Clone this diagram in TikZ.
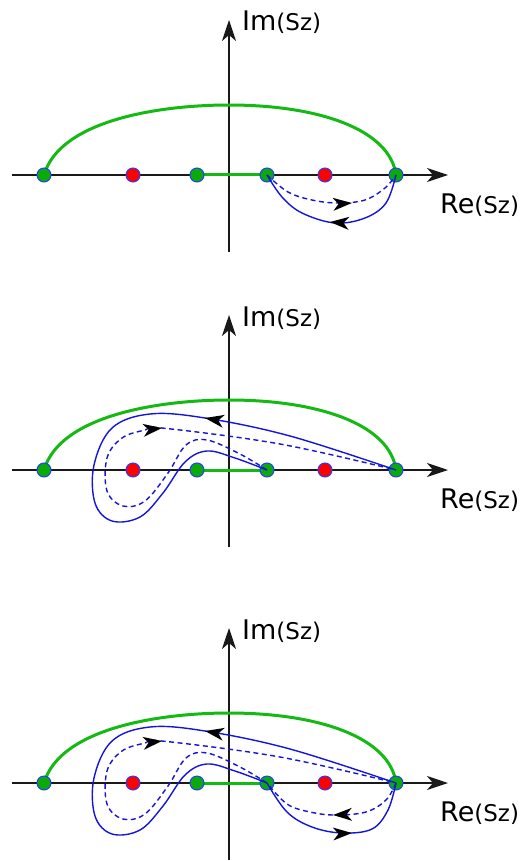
\documentclass[tikz,border=0pt]{standalone}
\usepackage{fontspec}
\setmainfont{DejaVu Sans}
\usetikzlibrary{arrows.meta}
\definecolor{dotgreen}{RGB}{10,170,10}
\definecolor{arcgreen}{RGB}{20,185,20}
\definecolor{dotred}{RGB}{255,0,0}
\definecolor{rimblue}{RGB}{40,60,255}
\definecolor{cblue}{RGB}{20,20,220}
\tikzset{
  axisline/.style={draw=black!90, line width=1.5pt, -{Stealth[length=21pt,width=14pt,inset=6pt]}},
  greenline/.style={draw=arcgreen, line width=3pt},
  gdot/.style={circle, fill=dotgreen, draw=rimblue, line width=1pt, minimum size=14pt, inner sep=0pt},
  rdot/.style={gdot, fill=dotred},
  bsolid/.style={draw=cblue, line width=1.4pt},
  bdashed/.style={bsolid, dash pattern=on 5pt off 3.5pt},
  axlabel/.style={anchor=base west, inner sep=0pt},
  ahead/.pic={\fill[black] (0,0) -- (-19,6.5) -- (-13.5,0) -- (-19,-6.5) -- cycle;}
}
\newcommand{\bigt}{\fontsize{27}{31}\selectfont}
\newcommand{\smallt}{\fontsize{23}{27}\selectfont}
\newcommand{\drawpanel}[1]{%
  \coordinate (#1xl) at (12,175); \coordinate (#1xr) at (448,175);
  \coordinate (#1yb) at (229,252); \coordinate (#1yt) at (229,20);
  \draw[axisline] (#1xl) -- (#1xr);
  \draw[axisline] (#1yb) -- (#1yt);
  \node[axlabel] (#1im) at (242,31) {{\bigt Im}{\smallt (Sz)}};
  \node[axlabel] (#1re) at (440,213) {{\bigt Re}{\smallt (Sz)}};
  \coordinate (#1p1) at (44,175); \coordinate (#1q1) at (133,175);
  \coordinate (#1p2) at (197,175); \coordinate (#1p3) at (267,175);
  \coordinate (#1q2) at (325,175); \coordinate (#1p4) at (396,175);
  \coordinate (#1top) at (229,105);
  \draw[greenline] (#1p1) .. controls (60,120) and (160,105) .. (#1top)
                          .. controls (320,105) and (390,130) .. (#1p4);
  \draw[greenline] (#1p2) -- (#1p3);
  \node[gdot] (#1a1) at (#1p1) {};
  \node[rdot] (#1r1) at (#1q1) {};
  \node[gdot] (#1a2) at (#1p2) {};
  \node[gdot] (#1a3) at (#1p3) {};
  \node[rdot] (#1r2) at (#1q2) {};
  \node[gdot] (#1a4) at (#1p4) {};
}
\newcommand{\upperloops}[1]{%
  \draw[bsolid] plot[smooth, tension=0.6] coordinates {(#1a4.center) (290,141) (205,123) (150,119) (112,133) (94,170) (95,208) (112,226) (140,222) (163,198) (185,167) (207,156) (235,163) (#1a3.center)};
  \draw[bdashed] plot[smooth, tension=0.6] coordinates {(#1a3.center) (240,159) (207,145) (186,150) (168,178) (145,206) (123,211) (107,196) (107,163) (122,143) (145,135) (162,133) (280,149) (#1a4.center)};
  \pic[rotate=170] at (205,123) {ahead};
  \pic[rotate=7] at (162,133) {ahead};
}
\begin{document}
\begin{tikzpicture}[x=1pt, y=-1pt]
\useasboundingbox (0,0) rectangle (522,861);
% panel 1
\begin{scope}
  \drawpanel{A}
  \draw[bsolid] plot[smooth, tension=0.6] coordinates {(Aa4.center) (386,203) (365,218) (335,223) (302,213) (282,197) (Aa3.center)};
  \draw[bdashed] plot[smooth, tension=0.6] coordinates {(Aa3.center) (288,192) (312,200) (338,203) (365,200) (385,188) (Aa4.center)};
  \pic[rotate=176] at (330,222) {ahead};
  \pic[rotate=4] at (352,203) {ahead};
\end{scope}
% panel 2
\begin{scope}[shift={(0,295)}]
  \drawpanel{B}
  \upperloops{B}
\end{scope}
% panel 3
\begin{scope}[shift={(0,608)}]
  \drawpanel{C}
  \upperloops{C}
  \draw[bsolid] plot[smooth, tension=0.6] coordinates {(Ca3.center) (287,204) (312,219) (342,225) (372,221) (388,202) (Ca4.center)};
  \draw[bdashed] plot[smooth, tension=0.6] coordinates {(Ca4.center) (386,192) (366,204) (335,207) (310,204) (287,196) (Ca3.center)};
  \pic[rotate=3] at (352,225) {ahead};
  \pic[rotate=182] at (333,207) {ahead};
\end{scope}
\end{tikzpicture}
\end{document}
